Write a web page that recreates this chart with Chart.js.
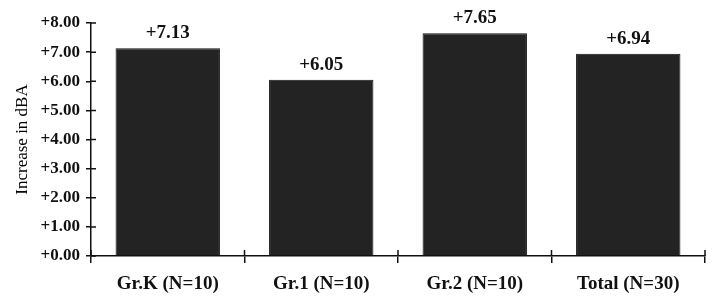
<!DOCTYPE html>
<html>
<head>
<meta charset="utf-8">
<script src="https://cdn.jsdelivr.net/npm/chart.js@4.4.0/dist/chart.umd.min.js"></script>
<style>
  html, body { margin: 0; padding: 0; background: #fff; }
  #wrap { width: 713px; height: 297px; }
</style>
</head>
<body>
<div id="wrap"><canvas id="chart"></canvas></div>
<script>
const groups = ["Gr.K (N=10)", "Gr.1 (N=10)", "Gr.2 (N=10)", "Total (N=30)"];
const increase = [7.13, 6.05, 7.65, 6.94];
const yTicks = [0, 1, 2, 3, 4, 5, 6, 7, 8];

const serif = '"Liberation Serif", "Times New Roman", serif';
const fmt = v => "+" + Number(v).toFixed(2);

// value labels above bars
const barLabels = {
  id: "barLabels",
  afterDatasetsDraw(chart) {
    const ctx = chart.ctx;
    const meta = chart.getDatasetMeta(0);
    ctx.save();
    ctx.font = "bold 19px " + serif;
    ctx.fillStyle = "#111";
    ctx.textAlign = "center";
    ctx.textBaseline = "alphabetic";
    meta.data.forEach((bar, i) => {
      ctx.fillText(fmt(increase[i]), bar.x, bar.y - 10);
    });
    ctx.restore();
  }
};

// ticks that cross the axis lines (inner half)
const innerTicks = {
  id: "innerTicks",
  afterDraw(chart) {
    const ctx = chart.ctx;
    const x = chart.scales.x, y = chart.scales.y;
    const step = x.getPixelForValue(1) - x.getPixelForValue(0);
    ctx.save();
    ctx.strokeStyle = "#111";
    ctx.lineWidth = 1.5;
    ctx.beginPath();
    yTicks.forEach(v => {
      const py = y.getPixelForValue(v);
      ctx.moveTo(y.right, py);
      ctx.lineTo(y.right + 5, py);
    });
    for (let i = 0; i <= groups.length; i++) {
      const px = x.getPixelForValue(0) - step / 2 + i * step;
      ctx.moveTo(px, x.top);
      ctx.lineTo(px, x.top - 6);
    }
    ctx.stroke();
    ctx.restore();
  }
};

new Chart(document.getElementById("chart").getContext("2d"), {
  type: "bar",
  data: {
    labels: groups,
    datasets: [{
      data: increase,
      backgroundColor: "#232323",
      borderColor: "#111111",
      borderWidth: 1,
      barPercentage: 0.68,
      categoryPercentage: 1
    }]
  },
  options: {
    responsive: true,
    maintainAspectRatio: false,
    animation: false,
    layout: { padding: { top: 23, right: 8, left: 0, bottom: 0 } },
    plugins: {
      legend: { display: false },
      tooltip: { enabled: false }
    },
    scales: {
      x: {
        offset: true,
        afterFit(scale) { scale.height = 41; },
        border: { display: true, color: "#111", width: 1.5 },
        grid: {
          offset: true,
          drawOnChartArea: false,
          drawTicks: true,
          tickLength: 7,
          color: "#111",
          lineWidth: 1.5
        },
        ticks: {
          color: "#111",
          padding: 10,
          font: { family: serif, size: 19, weight: "bold" }
        }
      },
      y: {
        min: 0,
        max: 8,
        afterFit(scale) { scale.width = 91; },
        afterBuildTicks(scale) { scale.ticks = yTicks.map(v => ({ value: v })); },
        border: { display: true, color: "#111", width: 1.5 },
        grid: {
          drawOnChartArea: false,
          drawTicks: true,
          tickLength: 5,
          color: "#111",
          lineWidth: 1.5
        },
        ticks: {
          color: "#111",
          padding: 6,
          callback: v => fmt(v),
          font: { family: serif, size: 17, weight: "bold" }
        },
        title: {
          display: true,
          text: "Increase in dBA",
          color: "#000",
          padding: { top: 12, bottom: 0 },
          font: { family: serif, size: 17 }
        }
      }
    }
  },
  plugins: [barLabels, innerTicks]
});
</script>
</body>
</html>
